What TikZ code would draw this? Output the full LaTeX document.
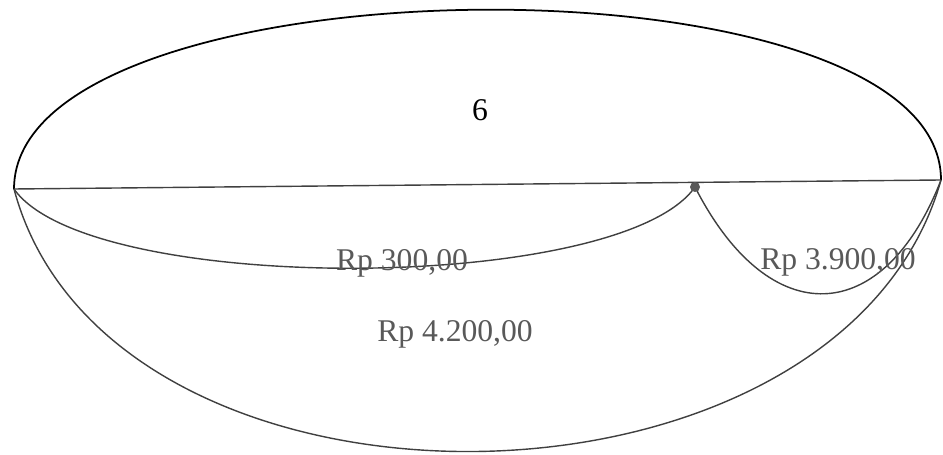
\documentclass[tikz,border=0pt]{standalone}
\usepackage{fontspec}
\setmainfont{Liberation Serif}
\usepackage{tikz}
\usetikzlibrary{calc}

\begin{document}
\begin{tikzpicture}[x=0.02cm, y=-0.02cm,
    arcline/.style={black!75, line width=0.8pt},
    money/.style={font=\fontsize{18}{20}\selectfont, text=black!65, inner sep=0pt}]
  \useasboundingbox (0,0) rectangle (943,455);
  \coordinate (left) at (14,189);
  \coordinate (mid) at (695,187);
  \coordinate (right) at (941,180);
  % upper arc and the base line
  \draw[black, line width=1pt] (left) .. controls +(0,-233) and +(0,-233) .. (right);
  \draw[arcline] (left) -- (right);
  % arcs below the line
  \draw[arcline] (left) .. controls +(75,107) and +(-75,107) .. (mid);
  \draw[arcline] (mid) .. controls +(75,147) and +(-57,147) .. (right);
  \draw[arcline] (left) .. controls +(95,356) and +(-100,356) .. (right);
  \fill[black!65] (mid) circle (0.1cm);
  \node[money, text=black] (six) at (480,110) {6};
  \node[money] (small) at (402,263) {Rp 300,00};
  \node[money] (rest) at (838,262) {Rp 3.900,00};
  \node[money] (total) at (455,334) {Rp 4.200,00};
\end{tikzpicture}
\end{document}
